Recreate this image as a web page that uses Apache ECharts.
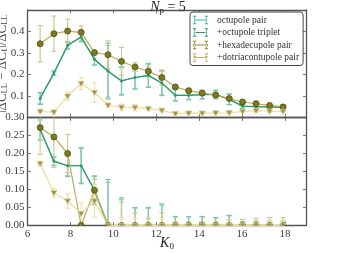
<!DOCTYPE html>
<html>
<head>
<meta charset="utf-8">
<script src="https://cdn.jsdelivr.net/npm/echarts@6/dist/echarts.min.js"></script>
<style>
html,body{margin:0;padding:0;background:#fff;}
#c{width:343px;height:253px;}
</style>
</head>
<body>
<div id="c"></div>
<script>
// ---- data ----
const K0 = [6.59, 7.23, 7.87, 8.50, 9.12, 9.75, 10.38, 11.01, 11.63, 12.26, 12.89, 13.51, 14.14, 14.77, 15.40, 16.02, 16.65, 17.28, 17.91];

// top panel
const topPair      = [0.090, 0.205, 0.334, 0.376, 0.270, 0.215, 0.170, 0.186, 0.195, 0.160, 0.104, 0.103, 0.106, 0.107, 0.084, 0.053, 0.050, 0.049, 0.047];
const topPairErr   = [0.026, 0.010, 0.016, 0.020, 0.025, 0.120, 0.062, 0.050, 0.052, 0.055, 0.025, 0.020, 0.020, 0.018, 0.024, 0.010, 0.010, 0.010, 0.010];
const topTrip      = [0.088, 0.207, 0.336, 0.374, 0.271, 0.216, 0.170, 0.186, 0.196, 0.160, 0.103, 0.103, 0.107, 0.107, 0.085, 0.053, 0.050, 0.049, 0.047];
const topTripErr   = [0.028, 0.010, 0.017, 0.022, 0.027, 0.130, 0.066, 0.054, 0.056, 0.058, 0.027, 0.020, 0.020, 0.020, 0.025, 0.010, 0.010, 0.010, 0.010];
const topHex       = [0.343, 0.390, 0.402, 0.396, 0.302, 0.292, 0.261, 0.235, 0.215, 0.186, 0.142, 0.125, 0.113, 0.105, 0.088, 0.072, 0.064, 0.056, 0.049];
const topHexErr    = [0.085, 0.082, 0.055, 0.030, 0.008, 0.065, 0.065, 0.020, 0.020, 0.035, 0.010, 0.010, 0.010, 0.008, 0.008, 0.008, 0.012, 0.010, 0.010];
const topDot       = [0.028, 0.025, 0.099, 0.158, 0.116, 0.057, 0.047, 0.046, 0.041, 0.033, 0.018, 0.020, 0.020, 0.021, 0.022, 0.028, 0.032, 0.029, 0.028];
const topDotErr    = [0.005, 0.008, 0.020, 0.028, 0.045, 0.010, 0.015, 0.015, 0.006, 0.006, 0.005, 0.004, 0.004, 0.004, 0.004, 0.005, 0.008, 0.006, 0.006];

// bottom panel
const botPair      = [0.265, 0.178, 0.166, 0.166, 0.098, 0, 0, 0, 0, 0, 0, 0, 0, 0, 0, 0, 0, 0, 0];
const botPairErr   = [0.028, 0.012, 0.028, 0.048, 0.038, 0.120, 0.072, 0.048, 0.048, 0.056, 0.024, 0.024, 0.024, 0.021, 0.027, 0.010, 0.012, 0.012, 0.012];
const botTrip      = [0.267, 0.179, 0.166, 0.166, 0.098, 0, 0, 0, 0, 0, 0, 0, 0, 0, 0, 0, 0, 0, 0];
const botTripErr   = [0.030, 0.012, 0.030, 0.050, 0.040, 0.128, 0.077, 0.050, 0.050, 0.060, 0.025, 0.025, 0.025, 0.022, 0.028, 0.010, 0.012, 0.012, 0.012];
const botHex       = [0.272, 0.246, 0.200, 0, 0.098, 0, 0, 0, 0, 0, 0, 0, 0, 0, 0, 0, 0, 0, 0];
const botHexErr    = [0.075, 0.085, 0.053, 0.010, 0.030, 0.000, 0.065, 0.035, 0.020, 0.035, 0.010, 0.010, 0.010, 0.010, 0.015, 0.017, 0.020, 0.022, 0.022];
const botDot       = [0.172, 0.091, 0.068, 0.033, 0.068, 0, 0, 0, 0, 0, 0, 0, 0, 0, 0, 0, 0, 0, 0];
const botDotErr    = [0.006, 0.012, 0.020, 0.030, 0.045, 0.010, 0.020, 0.020, 0.010, 0.020, 0.010, 0.005, 0.005, 0.005, 0.005, 0.008, 0.010, 0.012, 0.012];

const names = ['octupole pair', '+octupole triplet', '+hexadecupole pair', '+dotriacontupole pair'];

// ---- styling ----
const FONT = 'Liberation Serif';
const C = {
  pair:  {line: '#3dbb97', err: '#8ed8c2'},
  trip:  {line: '#2e9a62', err: '#7cc6a0', fill: '#2e9a62', edge: '#2e9a62'},
  hex:   {line: '#b6ae5c', err: '#cfc98e', fill: '#7d7a22', edge: '#4f4c12'},
  dot:   {line: '#ecdd98', err: '#efe3ad', fill: '#9d9152', edge: '#d6ca8a'}
};
const AX = '#555';
const TXT = '#3c3c3c';

function pts(vals) { return K0.map((k, i) => [k, vals[i]]); }
function errPts(vals, errs) { return K0.map((k, i) => [k, vals[i] - errs[i], vals[i] + errs[i]]); }

function errRender(color) {
  return function (params, api) {
    const x = api.value(0), lo = api.value(1), hi = api.value(2);
    const pHi = api.coord([x, hi]);
    const pLo = api.coord([x, lo]);
    const cs = params.coordSys;
    const yTop = cs.y, yBot = cs.y + cs.height;
    let y1 = Math.max(pHi[1], yTop), y2 = Math.min(pLo[1], yBot);
    if (y2 <= y1) return null;
    const st = {stroke: color, lineWidth: 1.2};
    const ch = [{type: 'line', shape: {x1: pHi[0], y1: y1, x2: pHi[0], y2: y2}, style: st}];
    const cw = 2.6;
    if (pHi[1] >= yTop) ch.push({type: 'line', shape: {x1: pHi[0] - cw, y1: pHi[1], x2: pHi[0] + cw, y2: pHi[1]}, style: st});
    if (pLo[1] <= yBot) ch.push({type: 'line', shape: {x1: pLo[0] - cw, y1: pLo[1], x2: pLo[0] + cw, y2: pLo[1]}, style: st});
    return {type: 'group', children: ch};
  };
}

function markRender(kind, c) {
  return function (params, api) {
    const p = api.coord([api.value(0), api.value(1)]);
    const cs = params.coordSys;
    const clip = {type: 'rect', shape: {x: cs.x, y: cs.y, width: cs.width, height: cs.height}};
    let el;
    if (kind === 'trip') {
      el = {type: 'circle', shape: {cx: p[0], cy: p[1], r: 1.5}, style: {fill: c.fill}};
    } else if (kind === 'hex') {
      el = {type: 'circle', shape: {cx: p[0], cy: p[1], r: 3}, style: {fill: c.fill, stroke: c.edge, lineWidth: 0.8}};
    } else {
      el = {type: 'polygon', shape: {points: [[p[0] - 3, p[1] - 2.2], [p[0] + 3, p[1] - 2.2], [p[0], p[1] + 3]]},
            style: {fill: c.fill, stroke: c.edge, lineWidth: 0.8}};
    }
    return {type: 'group', clipPath: clip, children: [el]};
  };
}

function makeSeries(panel, vals, errs, key, name) {
  const xi = panel === 0 ? 0 : 2, yi = panel === 0 ? 0 : 2;
  const c = C[key];
  const out = [];
  out.push({
    type: 'custom', name: name + ' err', xAxisIndex: xi, yAxisIndex: yi,
    data: errPts(vals, errs), renderItem: errRender(c.err),
    encode: {x: 0, y: [1, 2]}, animation: false, silent: true, z: 2
  });
  out.push({
    type: 'line', name: name, xAxisIndex: xi, yAxisIndex: yi,
    data: pts(vals), animation: false, silent: true, symbol: 'none',
    lineStyle: {color: c.line, width: 1.2},
    itemStyle: {color: c.line}, z: 3
  });
  if (key !== 'pair') {
    out.push({
      type: 'custom', name: name + ' marks', xAxisIndex: xi, yAxisIndex: yi,
      data: pts(vals), renderItem: markRender(key, c), clip: true,
      encode: {x: 0, y: 1}, animation: false, silent: true, z: 4
    });
  }
  return out;
}

const series = [].concat(
  makeSeries(0, topPair, topPairErr, 'pair', names[0]),
  makeSeries(0, topTrip, topTripErr, 'trip', names[1]),
  makeSeries(0, topHex, topHexErr, 'hex', names[2]),
  makeSeries(0, topDot, topDotErr, 'dot', names[3]),
  makeSeries(1, botPair, botPairErr, 'pair', names[0] + ' '),
  makeSeries(1, botTrip, botTripErr, 'trip', names[1] + ' '),
  makeSeries(1, botHex, botHexErr, 'hex', names[2] + ' '),
  makeSeries(1, botDot, botDotErr, 'dot', names[3] + ' ')
);

const grids = [
  {left: 27.5, right: 36.5, top: 10, height: 107.5, containLabel: false, outerBoundsMode: 'none'},
  {left: 27.5, right: 36.5, top: 117.5, height: 108, containLabel: false, outerBoundsMode: 'none'}
];

function xAx(gi, pos, showLabels, extra) {
  return Object.assign({
    type: 'value', gridIndex: gi, position: pos, min: 6, max: 19, interval: 2,
    axisLine: {show: true, onZero: false, lineStyle: {color: AX, width: 1.3}},
    axisTick: {show: true, inside: true, length: 3.5, lineStyle: {color: AX, width: 0.8}},
    axisLabel: {show: showLabels, color: TXT, fontFamily: FONT, fontSize: 11, margin: 3, showMaxLabel: false},
    splitLine: {show: false}
  }, extra || {});
}
function yAx(gi, pos, max, interval, showLabels, fmt, extra) {
  return Object.assign({
    type: 'value', gridIndex: gi, position: pos, min: 0, max: max, interval: interval,
    axisLine: {show: true, onZero: false, lineStyle: {color: AX, width: 1.3}},
    axisTick: {show: true, inside: true, length: 3.5, lineStyle: {color: AX, width: 0.8}},
    axisLabel: {show: showLabels, color: TXT, fontFamily: FONT, fontSize: 11, margin: 3, formatter: fmt,
      showMinLabel: true, showMaxLabel: true},
    splitLine: {show: false}
  }, extra || {});
}

// legend icon paths (filled)
const capsPath = 'M0,0h4v1h-4zM1.5,1h1v8h-1zM0,9h4v1h-4zM14,0h4v1h-4zM15.5,1h1v8h-1zM14,9h4v1h-4zM2,4.5h14v1h-14z';
const iconPair = 'path://' + capsPath;
const iconTrip = 'path://' + capsPath + 'M0.8,5a1.2,1.2 0 1,0 2.4,0a1.2,1.2 0 1,0 -2.4,0zM14.8,5a1.2,1.2 0 1,0 2.4,0a1.2,1.2 0 1,0 -2.4,0z';
const iconHex = 'path://' + capsPath + 'M0,5a2,2 0 1,0 4,0a2,2 0 1,0 -4,0zM14,5a2,2 0 1,0 4,0a2,2 0 1,0 -4,0z';
const iconDot = 'path://' + capsPath + 'M0,3.2h4l-2,3.6zM14,3.2h4l-2,3.6z';

const option = {
  backgroundColor: '#fff',
  animation: false,
  title: {
    text: '{i|N}{s|p}{n| = 5}',
    left: 163, textAlign: 'center', top: -5,
    textStyle: {
      fontWeight: 'normal',
      rich: {
        i: {fontFamily: FONT, fontStyle: 'italic', fontWeight: 'normal', fontSize: 14, color: '#222'},
        s: {fontFamily: FONT, fontWeight: 'normal', fontSize: 9, color: '#222', padding: [6, 0, 0, 0]},
        n: {fontFamily: FONT, fontWeight: 'normal', fontSize: 14, color: '#222'}
      }
    }
  },
  legend: {
    left: 190, top: 12,
    orient: 'vertical',
    padding: [3, 4, 3, 3],
    itemGap: 2.5,
    itemWidth: 15, itemHeight: 9,
    borderColor: '#444', borderWidth: 1, borderRadius: 3,
    backgroundColor: '#fff',
    selectedMode: false,
    textStyle: {fontFamily: FONT, fontSize: 9.5, color: '#333', padding: [0, 0, 0, 4]},
    data: [
      {name: names[0], icon: iconPair, itemStyle: {color: C.pair.line}},
      {name: names[1], icon: iconTrip, itemStyle: {color: C.trip.line}},
      {name: names[2], icon: iconHex, itemStyle: {color: '#8f8a32'}},
      {name: names[3], icon: iconDot, itemStyle: {color: '#c2b66c'}}
    ]
  },
  grid: grids,
  xAxis: [
    xAx(0, 'bottom', false),
    xAx(0, 'top', false),
    xAx(1, 'bottom', true, {
      name: '{k|K}{s|0}', nameLocation: 'middle', nameGap: 10, nameMoveOverlap: false,
      nameTextStyle: {rich: {
        k: {fontFamily: FONT, fontStyle: 'italic', fontSize: 14, color: '#222'},
        s: {fontFamily: FONT, fontSize: 9, color: '#222', padding: [7, 0, 0, 0]}
      }}
    }),
    xAx(1, 'top', false)
  ],
  yAxis: [
    yAx(0, 'left', 0.5, 0.1, true, function (v) { return (v < 0.05 || v > 0.45) ? '' : v.toFixed(1); }, {
      name: '{t|ǀΔC}{s|LL}{t| − ΔC}{s|ℓ}{t|ǀ/ΔC}{s|LL}', nameLocation: 'middle', nameGap: 18, nameRotate: 90,
      nameMoveOverlap: false,
      nameTextStyle: {rich: {
        t: {fontFamily: FONT, fontSize: 13, color: '#444'},
        s: {fontFamily: FONT, fontSize: 8.5, color: '#444', padding: [5, 0, 0, 0]}
      }}
    }),
    yAx(0, 'right', 0.5, 0.1, false),
    yAx(1, 'left', 0.3, 0.05, true, function (v) { return v.toFixed(2); }),
    yAx(1, 'right', 0.3, 0.05, false)
  ],
  series: series
};

const chart = echarts.init(document.getElementById('c'), null, {renderer: 'canvas'});
chart.setOption(option);
</script>
</body>
</html>
